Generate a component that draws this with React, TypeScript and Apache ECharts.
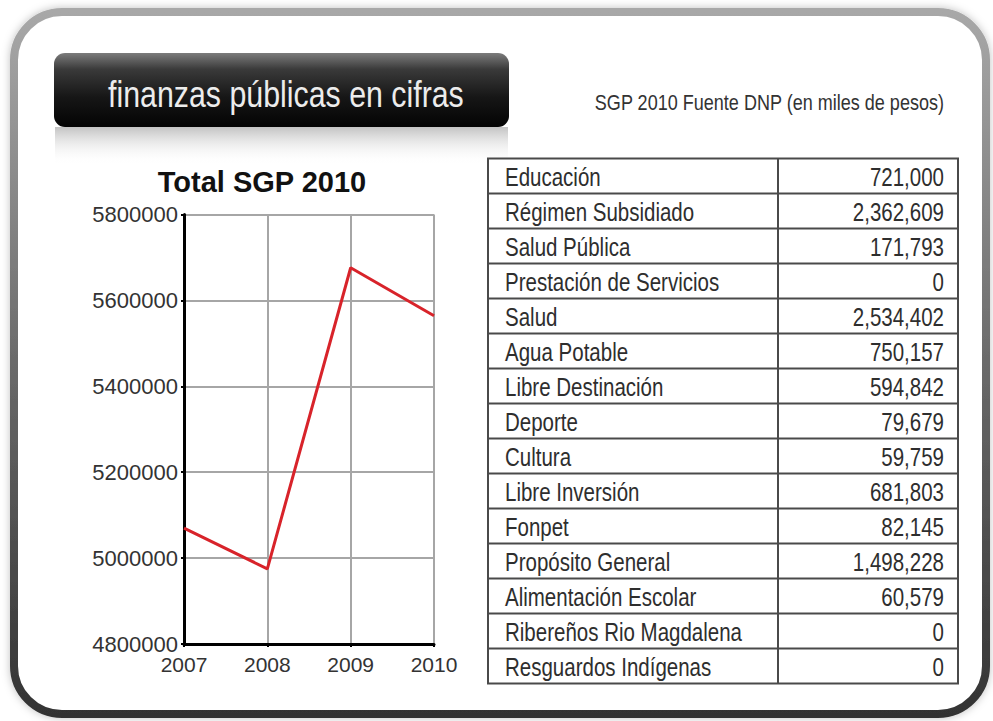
import React, { useEffect, useRef } from "react";
import * as echarts from "echarts";

// ---- data ----
const years = ["2007", "2008", "2009", "2010"];
const totalSGP = [5070000, 4975000, 5676000, 5564366];
const yMin = 4800000;
const yMax = 5800000;
const yStep = 200000;

const rubros = [
  "Educación",
  "Régimen Subsidiado",
  "Salud Pública",
  "Prestación de Servicios",
  "Salud",
  "Agua Potable",
  "Libre Destinación",
  "Deporte",
  "Cultura",
  "Libre Inversión",
  "Fonpet",
  "Propósito General",
  "Alimentación Escolar",
  "Ribereños Rio Magdalena",
  "Resguardos Indígenas",
];
const valores = [
  721000, 2362609, 171793, 0, 2534402, 750157, 594842, 79679, 59759, 681803,
  82145, 1498228, 60579, 0, 0,
];

const headerText = "finanzas públicas en cifras";
const subtitleText = "SGP 2010 Fuente DNP (en miles de pesos)";
const chartTitle = "Total SGP 2010";

const ARIAL = "'Liberation Sans', Arial, Helvetica, sans-serif";
const NARROW_SCALE = 0.82;

// table layout
const T_LEFT = 488;
const T_RIGHT = 958;
const T_DIV = 778;
const T_TOP = 158.5;
const ROW_H = 35;

function narrowText(
  text: string,
  x: number,
  y: number,
  fontSize: number,
  fill: string,
  align: string,
  z: number
) {
  return {
    type: "text",
    x,
    y,
    scaleX: NARROW_SCALE,
    style: {
      text,
      fontSize,
      fontFamily: ARIAL,
      fill,
      align,
      verticalAlign: "middle",
    },
    z,
  };
}

function buildTable(): any[] {
  const els: any[] = [];
  const n = rubros.length;
  const bottom = T_TOP + ROW_H * n;
  const lineStyle = { stroke: "#4a4a4a", lineWidth: 2 };
  els.push({
    type: "rect",
    shape: { x: T_LEFT, y: T_TOP, width: T_RIGHT - T_LEFT, height: bottom - T_TOP },
    style: { fill: "#fff", stroke: "#4a4a4a", lineWidth: 2 },
    z: 1,
  });
  for (let i = 1; i < n; i++) {
    const y = T_TOP + ROW_H * i;
    els.push({
      type: "line",
      shape: { x1: T_LEFT, y1: y, x2: T_RIGHT, y2: y },
      style: lineStyle,
      z: 2,
    });
  }
  els.push({
    type: "line",
    shape: { x1: T_DIV, y1: T_TOP, x2: T_DIV, y2: bottom },
    style: lineStyle,
    z: 2,
  });
  rubros.forEach((name, i) => {
    const cy = T_TOP + ROW_H * i + ROW_H / 2 + 1;
    els.push(narrowText(name, T_LEFT + 17, cy, 25, "#2e2e2e", "left", 3));
    els.push(
      narrowText(valores[i].toLocaleString("en-US"), T_RIGHT - 14, cy, 25, "#2e2e2e", "right", 3)
    );
  });
  return els;
}

export default function App() {
  const ref = useRef<HTMLDivElement>(null);

  useEffect(() => {
    document.body.style.margin = "0";
    if (!ref.current) return;
    const chart = echarts.init(ref.current, undefined, { renderer: "svg" });

    const graphic: any[] = [
      // outer frame
      {
        type: "rect",
        shape: { x: 14, y: 12, width: 972, height: 702, r: 48 },
        style: {
          fill: "#ffffff",
          stroke: new echarts.graphic.LinearGradient(0, 0, 0, 1, [
            { offset: 0, color: "#a8a8a8" },
            { offset: 0.5, color: "#6a6a6a" },
            { offset: 1, color: "#333333" },
          ]),
          lineWidth: 8,
          shadowBlur: 8,
          shadowColor: "rgba(0,0,0,0.25)",
        },
        z: -10,
      },
      // header reflection
      {
        type: "rect",
        shape: { x: 55, y: 127, width: 453, height: 38 },
        style: {
          fill: new echarts.graphic.LinearGradient(0, 0, 0, 1, [
            { offset: 0, color: "rgba(120,120,120,0.45)" },
            { offset: 1, color: "rgba(255,255,255,0)" },
          ]),
        },
        z: -5,
      },
      // header bar
      {
        type: "rect",
        shape: { x: 54, y: 53, width: 455, height: 74, r: 11 },
        style: {
          fill: new echarts.graphic.LinearGradient(0, 0, 0, 1, [
            { offset: 0, color: "#7c7c7c" },
            { offset: 0.22, color: "#3a3a3a" },
            { offset: 0.6, color: "#161616" },
            { offset: 1, color: "#030303" },
          ]),
        },
        z: -4,
      },
      narrowText(headerText, 108, 94, 37, "#ececec", "left", -3),
      narrowText(subtitleText, 944, 102.5, 22, "#333333", "right", 1),
      {
        type: "text",
        x: 262,
        y: 182,
        style: {
          text: chartTitle,
          fontSize: 29,
          fontWeight: "bold",
          fontFamily: ARIAL,
          fill: "#111",
          align: "center",
          verticalAlign: "middle",
        },
        z: 1,
      },
      ...buildTable(),
    ];

    chart.setOption({
      animation: false,
      backgroundColor: "#ffffff",
      graphic,
      grid: { left: 184, right: 559, top: 214.5, bottom: 77, containLabel: false },
      xAxis: {
        type: "category",
        data: years,
        boundaryGap: false,
        axisLine: { show: true, lineStyle: { color: "#000", width: 3 } },
        axisTick: { show: true, length: 3, lineStyle: { color: "#000", width: 2 } },
        axisLabel: {
          fontSize: 21,
          fontFamily: ARIAL,
          color: "#333",
          margin: 10,
          showMinLabel: true,
          showMaxLabel: true,
        },
        splitLine: { show: true, lineStyle: { color: "#a6a6a6", width: 2 } },
      },
      yAxis: {
        type: "value",
        min: yMin,
        max: yMax,
        interval: yStep,
        axisLine: { show: true, lineStyle: { color: "#000", width: 3 } },
        axisTick: { show: true, length: 3, lineStyle: { color: "#000", width: 2 } },
        axisLabel: {
          fontSize: 22,
          fontFamily: ARIAL,
          color: "#333",
          margin: 6,
          formatter: (v: number) => String(v),
        },
        splitLine: { show: true, lineStyle: { color: "#a6a6a6", width: 2 } },
      },
      series: [
        {
          type: "line",
          data: totalSGP,
          showSymbol: false,
          lineStyle: { color: "#d8232a", width: 3 },
          z: 5,
        },
      ],
    });

    return () => chart.dispose();
  }, []);

  return <div ref={ref} style={{ width: 993, height: 721 }} />;
}
